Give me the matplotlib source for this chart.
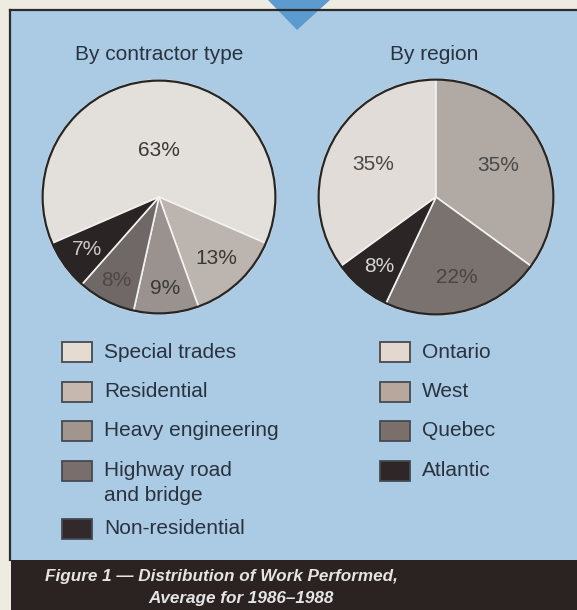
import matplotlib.pyplot as plt
from matplotlib.patches import Rectangle, Polygon, Circle
import numpy as np

plt.rcParams['font.family'] = ['Liberation Sans', 'DejaVu Sans']

# data
type_labels = ['Special trades', 'Residential', 'Heavy engineering',
               'Highway road\nand bridge', 'Non-residential']
type_share = [63, 13, 9, 8, 7]
type_colors = ['#e3dfdb', '#bcb4ae', '#9a928e', '#6f6867', '#2a2424']
type_swatch = ['#e6dbd1', '#c6b8ae', '#a1958e', '#796e6b', '#33292a']
type_pct_color = ['#383838', '#383838', '#383838', '#4e4745', '#cfc9c5']
type_pct_dist = [0.40, 0.72, 0.78, 0.80, 0.76]

region_labels = ['Ontario', 'West', 'Quebec', 'Atlantic']
region_share = [35, 35, 22, 8]
region_colors = ['#e1dcd7', '#b1a9a4', '#79726f', '#2b2526']
region_swatch = ['#e4d7ce', '#b8a79d', '#7b6f6b', '#2f2627']
region_pct_color = ['#484848', '#484848', '#4a4442', '#d8d4d6']
region_pct_dist = [0.60, 0.59, 0.70, 0.76]

W, H = 577, 610
blue = '#aacbe3'
txt = '#29323f'

fig = plt.figure(figsize=(W / 100, H / 100), dpi=100)
fig.patch.set_facecolor('#eeebe2')

# background + legend layer in pixel coordinates
bg = fig.add_axes([0, 0, 1, 1])
bg.set_xlim(0, W)
bg.set_ylim(H, 0)
bg.axis('off')
bg.add_patch(Rectangle((11, 10), W - 11, 550, facecolor=blue, edgecolor='none'))
bg.add_patch(Rectangle((11, 560), W - 11, 50, facecolor='#2a2321', edgecolor='none'))
bg.plot([10, W], [10, 10], color='#2b2b2b', lw=1.6)
bg.plot([10, 10], [10, 560], color='#2b2b2b', lw=1.6)
bg.add_patch(Polygon([(268, 0), (330, 0), (297, 30)], closed=True,
                     facecolor='#5c9bd0', edgecolor='none'))

bg.text(159, 55, 'By contractor type', ha='center', va='center', fontsize=15, color=txt)
bg.text(434, 55, 'By region', ha='center', va='center', fontsize=15, color=txt)


def draw_legend(x0, labels, swatches):
    y = 352
    for lab, col in zip(labels, swatches):
        bg.add_patch(Rectangle((x0, y - 10), 30, 20, facecolor=col,
                               edgecolor='#454a52', lw=1.3))
        lines = lab.split('\n')
        for k, line in enumerate(lines):
            bg.text(x0 + 42, y + k * 25, line, ha='left', va='center',
                    fontsize=15, color=txt)
        y += 39.5 + 19 * (len(lines) - 1)


draw_legend(62, type_labels, type_swatch)
draw_legend(380, region_labels, region_swatch)

bg.text(45, 577, 'Figure 1 \u2014 Distribution of Work Performed,', ha='left',
        va='center', fontsize=12.3, color='#e6e4e4', fontweight='bold', style='italic')
bg.text(148, 598, 'Average for 1986\u20131988', ha='left', va='center',
        fontsize=12.3, color='#e6e4e4', fontweight='bold', style='italic')


def draw_pie(cx, cy, r, values, colors, start, pct_colors, pct_dist):
    ax = fig.add_axes([(cx - r) / W, 1 - (cy + r) / H, 2 * r / W, 2 * r / H])
    wedges, _ = ax.pie(values, colors=colors, startangle=start, counterclock=False,
                       radius=1, wedgeprops=dict(edgecolor='#f2f2f0', linewidth=1.2))
    ax.set_xlim(-1, 1)
    ax.set_ylim(-1, 1)
    ax.set_aspect('equal')
    ax.axis('off')
    for w, v, c, d in zip(wedges, values, pct_colors, pct_dist):
        ang = np.deg2rad((w.theta1 + w.theta2) / 2)
        ax.text(d * np.cos(ang), d * np.sin(ang), f'{v}%', ha='center', va='center',
                fontsize=15, color=c)
    ax.add_patch(Circle((0, 0), 0.995, fill=False, edgecolor='#262626', lw=1.6,
                        clip_on=False))
    return ax


draw_pie(159, 197, 117, type_share, type_colors, 90 + 63 * 3.6 / 2,
         type_pct_color, type_pct_dist)
draw_pie(436, 197, 118, region_share, region_colors, 90 + 35 * 3.6,
         region_pct_color, region_pct_dist)

fig.savefig('out.png', dpi=100, facecolor=fig.get_facecolor())
